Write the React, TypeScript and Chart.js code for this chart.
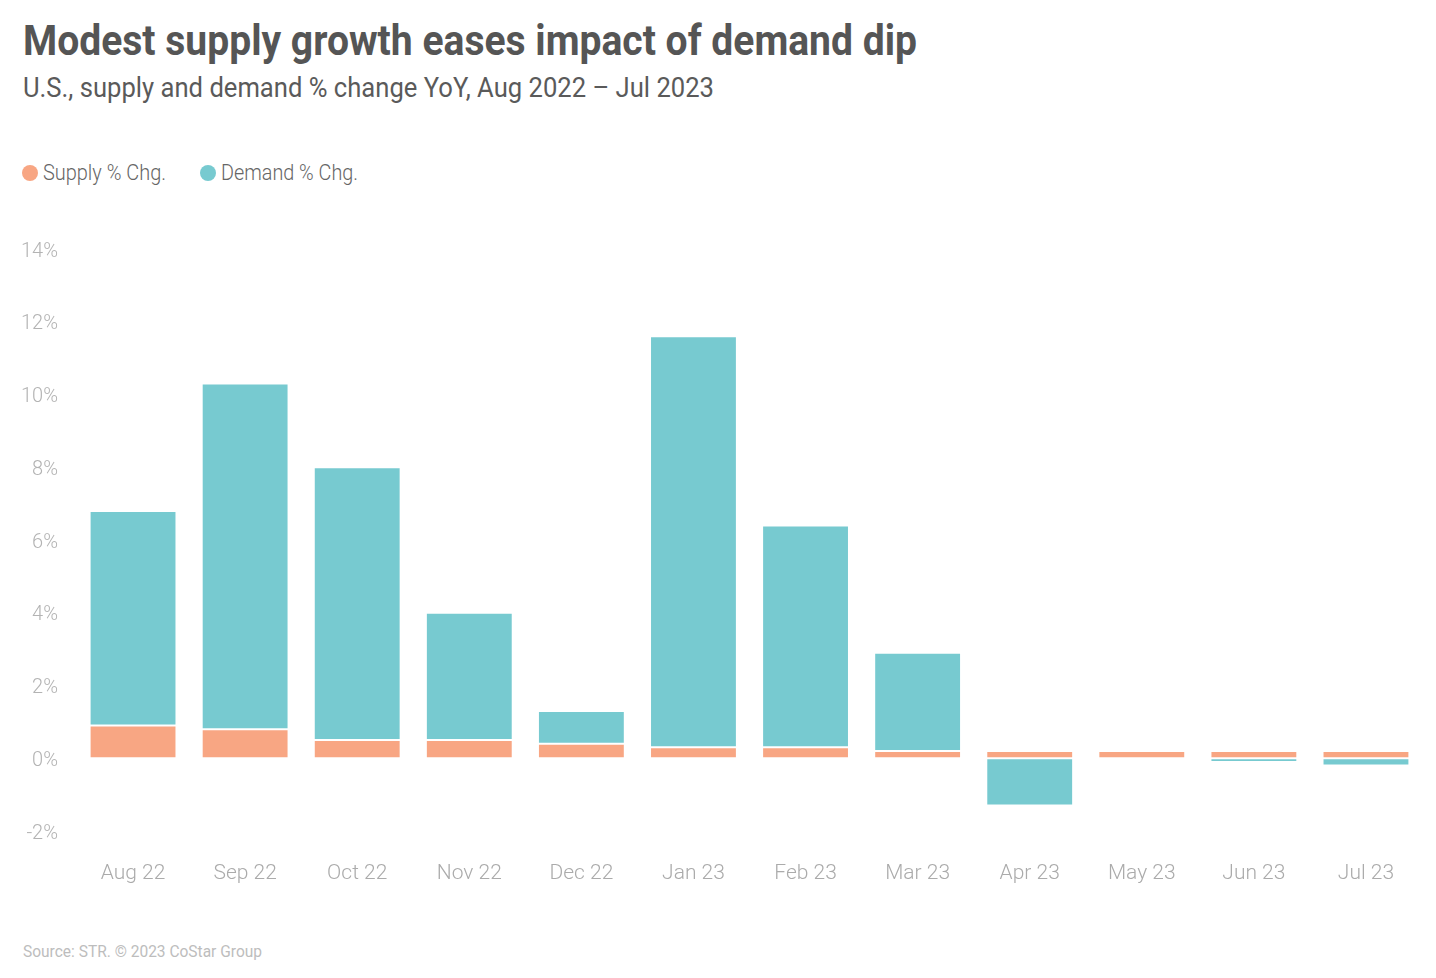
import React, { useEffect, useLayoutEffect, useRef } from "react";
import { Chart, registerables } from "chart.js";

Chart.register(...registerables);

const categories = ["Aug 22", "Sep 22", "Oct 22", "Nov 22", "Dec 22", "Jan 23", "Feb 23", "Mar 23", "Apr 23", "May 23", "Jun 23", "Jul 23"];
const supplyChange = [0.9, 0.8, 0.5, 0.5, 0.4, 0.3, 0.3, 0.2, 0.2, 0.2, 0.2, 0.2];
const demandChange = [5.9, 9.5, 7.5, 3.5, 0.9, 11.3, 6.1, 2.7, -1.3, 0.0, -0.1, -0.2];
const seriesNames = ["Supply % Chg.", "Demand % Chg."];
const seriesColors = ["#F8A683", "#77CAD0"];
const yMin = -2;
const yMax = 14;
const yStep = 2;

const titleText = "Modest supply growth eases impact of demand dip";
const subtitleText = "U.S., supply and demand % change YoY, Aug 2022 \u2013 Jul 2023";
const sourceText = "Source: STR. \u00A9 2023 CoStar Group";

function FitText(props: { text: string; width: number; style: React.CSSProperties }) {
  const ref = useRef<HTMLSpanElement>(null);
  useLayoutEffect(() => {
    const fit = () => {
      const el = ref.current;
      if (!el) return;
      el.style.transform = "none";
      const w = el.getBoundingClientRect().width;
      if (w > 0) el.style.transform = `scaleX(${props.width / w})`;
    };
    fit();
    if ((document as any).fonts && (document as any).fonts.ready) {
      (document as any).fonts.ready.then(fit);
    }
  }, [props.text, props.width]);
  return (
    <span
      ref={ref}
      style={{ display: "inline-block", whiteSpace: "nowrap", transformOrigin: "0 50%", ...props.style }}
    >
      {props.text}
    </span>
  );
}

export default function App() {
  const canvasRef = useRef<HTMLCanvasElement>(null);

  useEffect(() => {
    if (!canvasRef.current) return;
    const chart = new Chart(canvasRef.current, {
      type: "bar",
      data: {
        labels: categories,
        datasets: [
          {
            label: seriesNames[0],
            data: supplyChange,
            backgroundColor: seriesColors[0],
            borderColor: "#ffffff",
            borderWidth: 1,
            borderSkipped: false,
          },
          {
            label: seriesNames[1],
            data: demandChange,
            backgroundColor: seriesColors[1],
            borderColor: "#ffffff",
            borderWidth: 1,
            borderSkipped: false,
          },
        ],
      },
      options: {
        animation: false,
        responsive: false,
        maintainAspectRatio: false,
        layout: { padding: { top: 49, right: 14, bottom: 0, left: 0 } },
        datasets: { bar: { barPercentage: 0.775, categoryPercentage: 1 } },
        plugins: {
          legend: { display: false },
          title: { display: false },
          tooltip: { enabled: false },
        },
        scales: {
          x: {
            stacked: true,
            grid: { display: false, drawTicks: false },
            border: { display: false },
            ticks: {
              padding: 30,
              color: "#ABABAB",
              font: { family: "Roboto", size: 21, weight: "300" as any },
            },
            afterFit: (scale: any) => {
              scale.height = 89;
            },
          },
          y: {
            stacked: true,
            min: yMin,
            max: yMax,
            grid: { display: false, drawTicks: false },
            border: { display: false },
            ticks: {
              stepSize: yStep,
              padding: 19,
              labelOffset: 2.5,
              color: "#B3B3B3",
              font: { family: "Roboto", size: 20, weight: "300" as any },
              callback: (v: any) => `${v}%`,
            },
            afterFit: (scale: any) => {
              scale.width = 77;
            },
          },
        },
      },
    });
    return () => chart.destroy();
  }, []);

  const legendItem = (i: number, left: number, textWidth: number) => (
    <div key={i} style={{ position: "absolute", left, top: 162, height: 22 }}>
      <span
        style={{
          position: "absolute",
          left: 0,
          top: 3,
          width: 16,
          height: 16,
          borderRadius: "50%",
          background: seriesColors[i],
        }}
      />
      <FitText
        text={seriesNames[i]}
        width={textWidth}
        style={{
          position: "absolute",
          left: 21,
          top: 0,
          fontFamily: "Roboto",
          fontWeight: 300,
          fontSize: 22,
          lineHeight: "22px",
          color: "#666666",
        }}
      />
    </div>
  );

  return (
    <div style={{ position: "absolute", left: 0, top: 0, width: 1436, height: 978, background: "#ffffff", overflow: "hidden" }}>
      <FitText
        text={titleText}
        width={894}
        style={{
          position: "absolute",
          left: 23,
          top: 20,
          fontFamily: "Roboto",
          fontWeight: 700,
          fontSize: 42,
          lineHeight: "42px",
          color: "#555555",
        }}
      />
      <FitText
        text={subtitleText}
        width={691}
        style={{
          position: "absolute",
          left: 23,
          top: 75,
          fontFamily: "Roboto",
          fontWeight: 400,
          fontSize: 27,
          lineHeight: "27px",
          color: "#5A5A5A",
        }}
      />
      {legendItem(0, 22, 123)}
      {legendItem(1, 200, 137)}
      <canvas
        ref={canvasRef}
        width={1436}
        height={720}
        style={{ position: "absolute", left: 0, top: 200, width: 1436, height: 720 }}
      />
      <FitText
        text={sourceText}
        width={239}
        style={{
          position: "absolute",
          left: 23,
          top: 943,
          fontFamily: "Roboto",
          fontWeight: 400,
          fontSize: 17,
          lineHeight: "17px",
          color: "#BDBDBD",
        }}
      />
    </div>
  );
}
